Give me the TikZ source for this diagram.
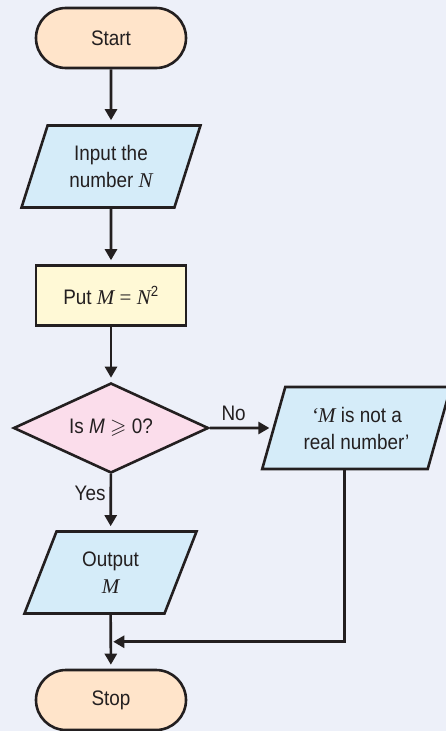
\documentclass[tikz,border=0pt]{standalone}
\usepackage{amssymb}
\usepackage{fontspec}
\setmainfont{Liberation Sans}[FakeStretch=0.9]
\newfontfamily\varfont{Liberation Serif}
\newcommand{\var}[1]{{\varfont\itshape #1}}
\usetikzlibrary{shapes.geometric,arrows.meta,calc}

\definecolor{bgcol}{HTML}{EDF0F9}
\definecolor{ink}{HTML}{231F20}
\definecolor{peach}{HTML}{FFE4CA}
\definecolor{sky}{HTML}{D5ECF9}
\definecolor{butter}{HTML}{FFF9D6}
\definecolor{blush}{HTML}{FBDDEB}

\tikzset{
  base/.style={draw=ink, line width=2.6pt, text=ink, inner sep=0pt,
    align=center, font=\fontsize{21}{27}\selectfont},
  terminal/.style={base, fill=peach, rectangle, rounded corners=30pt,
    minimum width=150pt, minimum height=60pt},
  process/.style={base, fill=butter, rectangle,
    minimum width=150pt, minimum height=60pt},
  decision/.style={base, fill=blush, diamond, shape aspect=2.16,
    minimum width=195pt, minimum height=90pt},
  io/.style={base, fill=sky, trapezium, trapezium left angle=68,
    trapezium right angle=112, trapezium stretches=true,
    minimum height=82pt},
  flow/.style={draw=ink, line width=2.6pt,
    -{Triangle[length=11pt,width=12pt]}, shorten >=4pt},
  lbl/.style={text=ink, font=\fontsize{21}{27}\selectfont, inner sep=0pt}
}

\begin{document}
\begin{tikzpicture}[x=1pt,y=-1pt]
  \useasboundingbox (0,0) rectangle (446,731);
  \clip (0,0) rectangle (446,731);
  \fill[bgcol] (0,0) rectangle (446,731);

  % main column
  \node[terminal] (start) at (111,38) {Start};
  \node[io, minimum width=179pt] (input) at (111,166.5) {Input the\\number \var{N}};
  \node[process] (put) at (111,295.5) {Put \var{M} {\varfont=} \var{N}\textsuperscript{2}};
  \node[decision] (test) at (111,428) {Is \textit{M} $\geqslant$ 0?};
  \node[io, minimum width=173pt] (output) at (110.5,572.5) {Output\\\var{M}};
  \node[terminal] (stop) at (111,700) {Stop};

  % branch for negative values
  \node[io, minimum width=189pt] (msg) at (356.5,428) {\var{‘M} is not a\\real number’};

  \coordinate (msgfoot) at ($(msg.bottom left corner)!0.5!(msg.bottom right corner)$);
  \coordinate (join) at ($(output.south)!0.5!(stop.north)$);

  \draw[flow] (start) -- (input);
  \draw[flow] (input) -- (put);
  \draw[flow] (put) -- (test);
  \draw[flow] (test) -- node[lbl, pos=0.35, left=4pt] {Yes} (output);
  \draw[flow, shorten >=3pt] (test.east) -- node[lbl, above=6pt, pos=0.38] {No} (msg);
  \draw[flow] (output) -- (stop);
  \draw[flow, shorten >=2.5pt] (msgfoot) |- (join);
\end{tikzpicture}
\end{document}
